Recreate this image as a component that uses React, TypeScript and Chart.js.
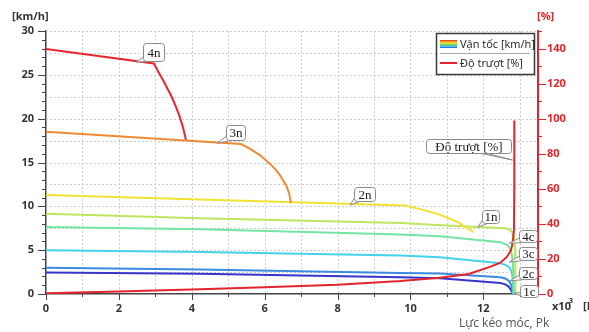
import React, { useEffect, useRef } from 'react';
import { Chart, registerables } from 'chart.js';
Chart.register(...registerables);

// ---------- data (x in 10^3 N) ----------
const slipX = [0, 2, 4.23, 6, 8, 9.73, 10.81, 11.6, 12.2, 12.47, 12.65, 12.76, 12.81, 12.84, 12.85, 12.85];
const slipY = [0.4, 1.4, 2.7, 3.8, 5.3, 7.4, 9.3, 11.4, 15.6, 17.9, 21.3, 25, 30, 36.6, 60, 99];

const n4X = [0, 2.96, 3.08, 3.21, 3.33, 3.45, 3.56, 3.67, 3.76, 3.84];
const n4Y = [27.95, 26.3, 25.35, 24.4, 23.45, 22.5, 21.4, 20.2, 19.0, 17.6];

const n3X = [0, 5.35, 5.6, 5.87, 6.05, 6.23, 6.38, 6.5, 6.6, 6.67, 6.72];
const n3Y = [18.5, 17.1, 16.55, 15.85, 15.2, 14.5, 13.8, 13.0, 12.3, 11.5, 10.4];

const n2X = [0, 9.85, 10.3, 10.81, 11.3, 11.73];
const n2Y = [11.3, 10.1, 9.65, 9.05, 8.2, 7.05];

const n1X = [0, 4.23, 9.73, 11.0, 12.6, 12.72, 12.8, 12.85, 12.87, 12.88];
const n1Y = [9.15, 8.63, 8.1, 7.8, 7.5, 7.35, 7.0, 6.3, 5.2, 0];

const c4X = [0, 4.23, 9.73, 10.81, 12.47, 12.65, 12.73, 12.78, 12.81, 12.83, 12.84];
const c4Y = [7.65, 7.4, 6.8, 6.6, 5.9, 5.6, 5.2, 4.5, 3.5, 2.0, 0];

const c3X = [0, 4.23, 9.73, 10.81, 12.47, 12.62, 12.72, 12.78, 12.81, 12.82];
const c3Y = [5.0, 4.8, 4.4, 4.2, 3.5, 3.3, 3.0, 2.5, 1.6, 0];

const c2X = [0, 4.23, 9.73, 10.81, 12.47, 12.62, 12.7, 12.76, 12.79, 12.8];
const c2Y = [3.0, 2.8, 2.4, 2.35, 1.9, 1.75, 1.5, 1.1, 0.5, 0];

const c1X = [0, 4.23, 9.73, 10.81, 12.47, 12.6, 12.68, 12.74, 12.78, 12.8];
const c1Y = [2.45, 2.3, 1.9, 1.8, 1.25, 1.1, 0.9, 0.6, 0.25, 0];

const xTickLabels = ['0', '2', '4', '6', '8', '10', '12'];
const yTickLabels = ['0', '5', '10', '15', '20', '25', '30'];
const y1TickLabels = ['0', '20', '40', '60', '80', '100', '120', '140'];

const legendLabels = ['Vận tốc [km/h]', 'Độ trượt [%]'];

const calloutTexts = ['4n', '3n', '2n', '1n', '4c', '3c', '2c', '1c', 'Độ trượt [%]'];
const calloutAnchorX = [2.47, 4.69, 8.34, 11.85, 12.71, 12.71, 12.73, 12.84, 12.8];
const calloutAnchorY = [26.45, 17.2, 10.15, 7.64, 5.8, 3.65, 1.5, 0.1, 76.4];
const calloutAxis = ['y', 'y', 'y', 'y', 'y', 'y', 'y', 'y', 'y1'];

// ---------- layout / style ----------
const calloutLayout = [
  { dx: 7, dy: -19, h: 18, pad: 3, tail: 'bl' },
  { dx: 9, dy: -18, h: 15, pad: 2, tail: 'bl' },
  { dx: 4, dy: -18, h: 14, pad: 3, tail: 'bl' },
  { dx: 4, dy: -17, h: 13, pad: 1, tail: 'bl' },
  { dx: 10, dy: -13, h: 12, pad: 2, tail: 'bl' },
  { dx: 10, dy: -15, h: 13, pad: 2, tail: 'bl' },
  { dx: 9, dy: -14, h: 12, pad: 2, tail: 'bl' },
  { dx: 6, dy: -8, h: 12, pad: 2, tail: 'bl' },
  { dx: -86, dy: -21, h: 14, pad: 8, tail: 'br' },
];

const COLORS = {
  slip: '#e3242b',
  n4: '#e8262d',
  n3: '#ef8a33',
  n2: '#f1e232',
  n1: '#bde65e',
  c4: '#74e4a4',
  c3: '#45d3ea',
  c2: '#3b8be3',
  c1: '#3535c9',
};

const pts = (xs: number[], ys: number[]) => xs.map((x, i) => ({ x, y: ys[i] }));

const TICK_FONT = { family: "'Open Sans', 'Liberation Sans', sans-serif", size: 11, weight: 'bold' as const };

const decoPlugin = {
  id: 'deco',
  beforeDatasetsDraw(chart: any) {
    const { ctx, chartArea: a, scales } = chart;
    const xs = scales.x, ys = scales.y;
    ctx.save();
    ctx.strokeStyle = '#cdcdcd';
    ctx.lineWidth = 1;
    ctx.setLineDash([2, 2]);
    for (let v = 1; v <= 13; v++) {
      const px = Math.round(xs.getPixelForValue(v)) + 0.5;
      ctx.beginPath(); ctx.moveTo(px, a.top); ctx.lineTo(px, a.bottom); ctx.stroke();
    }
    for (let v = 2.5; v <= 30.01; v += 2.5) {
      const py = Math.round(ys.getPixelForValue(v)) + 0.5;
      ctx.beginPath(); ctx.moveTo(a.left, py); ctx.lineTo(a.right, py); ctx.stroke();
    }
    ctx.restore();
  },
  afterDraw(chart: any) {
    const { ctx, chartArea: a, scales } = chart;
    const xs = scales.x, ys = scales.y, y1 = scales.y1;
    ctx.save();
    // tick marks
    ctx.lineWidth = 1;
    ctx.strokeStyle = '#444';
    for (let v = 0; v <= 30; v++) {
      const py = Math.round(ys.getPixelForValue(v)) + 0.5;
      const len = v % 5 === 0 ? 8 : 4;
      ctx.beginPath(); ctx.moveTo(a.left - len, py); ctx.lineTo(a.left, py); ctx.stroke();
    }
    for (let v = 0; v <= 13; v++) {
      const px = Math.round(xs.getPixelForValue(v)) + 0.5;
      const len = v % 2 === 0 ? 6 : 3;
      ctx.beginPath(); ctx.moveTo(px, a.bottom); ctx.lineTo(px, a.bottom + len); ctx.stroke();
    }
    ctx.strokeStyle = COLORS.slip;
    for (let v = 0; v <= 150; v += 10) {
      const py = Math.round(y1.getPixelForValue(v)) + 0.5;
      const len = v % 20 === 0 ? 8 : 4;
      ctx.beginPath(); ctx.moveTo(a.right, py); ctx.lineTo(a.right + len, py); ctx.stroke();
    }

    // axis titles
    ctx.textBaseline = 'middle';
    ctx.font = "bold 11px 'Open Sans', sans-serif";
    ctx.fillStyle = '#333';
    ctx.textAlign = 'left';
    ctx.fillText('[km/h]', 12, 17);
    ctx.fillStyle = COLORS.slip;
    ctx.fillText('[%]', 537, 17);
    ctx.fillStyle = '#333';
    ctx.fillText('x10', 552, 307);
    ctx.font = "bold 7px 'Open Sans', sans-serif";
    ctx.fillText('3', 569, 301);
    ctx.font = "bold 11px 'Open Sans', sans-serif";
    ctx.fillText('[N]', 583, 307);
    ctx.font = "12px 'Open Sans', sans-serif";
    ctx.fillStyle = '#555';
    ctx.fillText('Lực kéo móc, Pk', 459, 324);

    // legend
    const lx = 436, ly = 33, lw = 98, lh = 41;
    ctx.fillStyle = '#fff';
    ctx.fillRect(lx, ly, lw, lh);
    ctx.strokeStyle = '#3a3a3a';
    ctx.lineWidth = 1.5;
    ctx.strokeRect(lx + 0.5, ly + 0.5, lw, lh);
    const g = ctx.createLinearGradient(0, 40, 0, 48);
    g.addColorStop(0, '#e8262d');
    g.addColorStop(0.2, '#f3a21f');
    g.addColorStop(0.4, '#f1e232');
    g.addColorStop(0.6, '#63d36a');
    g.addColorStop(0.8, '#45c8ee');
    g.addColorStop(1, '#3050e0');
    ctx.fillStyle = g;
    ctx.fillRect(440, 40, 17, 8);
    ctx.strokeStyle = '#aaa';
    ctx.lineWidth = 1;
    ctx.beginPath(); ctx.moveTo(440, 53.5); ctx.lineTo(530, 53.5); ctx.stroke();
    ctx.strokeStyle = COLORS.slip;
    ctx.lineWidth = 2;
    ctx.beginPath(); ctx.moveTo(440, 63); ctx.lineTo(457, 63); ctx.stroke();
    ctx.fillStyle = '#222';
    ctx.font = "11px 'Open Sans', sans-serif";
    ctx.fillText(legendLabels[0], 460, 45);
    ctx.fillText(legendLabels[1], 460, 64);

    // callouts
    ctx.font = "13px 'Liberation Serif', 'DejaVu Serif', serif";
    calloutTexts.forEach((t, i) => {
      const L = calloutLayout[i];
      const sc = calloutAxis[i] === 'y1' ? y1 : ys;
      const ax = xs.getPixelForValue(calloutAnchorX[i]);
      const ay = sc.getPixelForValue(calloutAnchorY[i]);
      const tw = ctx.measureText(t).width;
      const w = Math.round(tw + 2 * L.pad + 2);
      const bx = Math.round(ax + L.dx) + 0.5;
      const by = Math.round(ay + L.dy) + 0.5;
      const h = L.h;
      // tail
      let p1, p2;
      if (L.tail === 'bl') { p1 = [bx + 1, by + h - 5]; p2 = [bx + 5, by + h]; }
      else { p1 = [bx + w - 30, by + h]; p2 = [bx + w - 24, by + h]; }
      ctx.lineWidth = 1;
      ctx.strokeStyle = '#8a8a8a';
      ctx.fillStyle = '#fff';
      ctx.beginPath();
      ctx.moveTo(p1[0], p1[1]); ctx.lineTo(ax, ay); ctx.lineTo(p2[0], p2[1]);
      ctx.closePath(); ctx.fill(); ctx.stroke();
      ctx.beginPath();
      (ctx as any).roundRect(bx, by, w, h, 3);
      ctx.fill(); ctx.stroke();
      ctx.fillStyle = '#1a1a1a';
      ctx.textAlign = 'center';
      ctx.textBaseline = 'middle';
      ctx.fillText(t, bx + w / 2, by + h / 2 + 1);
    });
    ctx.restore();
  },
};

export default function App() {
  const ref = useRef<HTMLCanvasElement>(null);
  useEffect(() => {
    if (!ref.current) return;
    const mk = (label: string, xs: number[], ysArr: number[], color: string, axis = 'y', w = 2) => ({
      label, data: pts(xs, ysArr), borderColor: color, backgroundColor: color, yAxisID: axis,
      borderWidth: w, pointRadius: 0, tension: 0, fill: false,
    });
    const chart = new Chart(ref.current, {
      type: 'line',
      data: {
        datasets: [
          mk(legendLabels[1], slipX, slipY, COLORS.slip, 'y1', 2),
          mk('4n', n4X, n4Y, COLORS.n4),
          mk('3n', n3X, n3Y, COLORS.n3),
          mk('2n', n2X, n2Y, COLORS.n2),
          mk('1n', n1X, n1Y, COLORS.n1),
          mk('4c', c4X, c4Y, COLORS.c4),
          mk('3c', c3X, c3Y, COLORS.c3),
          mk('2c', c2X, c2Y, COLORS.c2),
          mk('1c', c1X, c1Y, COLORS.c1),
        ] as any,
      },
      options: {
        responsive: false,
        animation: false,
        devicePixelRatio: 1,
        layout: { padding: { top: 31, left: 0, right: 0, bottom: 0 } },
        plugins: { legend: { display: false }, tooltip: { enabled: false } },
        scales: {
          x: {
            type: 'linear', min: 0, max: 13.5, position: 'bottom',
            ticks: {
              stepSize: 1, autoSkip: false, maxRotation: 0, padding: 8,
              font: TICK_FONT, color: '#333',
              callback: (v: any) => (xTickLabels.includes(String(v)) ? String(v) : ''),
            },
            grid: { drawOnChartArea: false, drawTicks: false },
            border: { color: '#444', width: 1.5 },
            afterFit: (s: any) => { s.height = 38; },
          },
          y: {
            type: 'linear', min: 0, max: 30, position: 'left',
            ticks: {
              stepSize: 5, padding: 12, font: TICK_FONT, color: '#333',
              callback: (v: any) => (yTickLabels.includes(String(v)) ? String(v) : ''),
            },
            grid: { drawOnChartArea: false, drawTicks: false },
            border: { color: '#444', width: 1.5 },
            afterFit: (s: any) => { s.width = 46; },
          },
          y1: {
            type: 'linear', min: 0, max: 150, position: 'right',
            ticks: {
              stepSize: 20, padding: 9, font: TICK_FONT, color: COLORS.slip,
              callback: (v: any) => (y1TickLabels.includes(String(v)) ? String(v) : ''),
            },
            grid: { drawOnChartArea: false, drawTicks: false },
            border: { color: COLORS.slip, width: 2 },
            afterFit: (s: any) => { s.width = 51; },
          },
        },
      } as any,
      plugins: [decoPlugin],
    });
    return () => chart.destroy();
  }, []);
  return (
    <div style={{ position: 'fixed', left: 0, top: 0, width: 589, height: 332, background: '#fff' }}>
      <canvas ref={ref} width={589} height={332} style={{ display: 'block' }} />
    </div>
  );
}
